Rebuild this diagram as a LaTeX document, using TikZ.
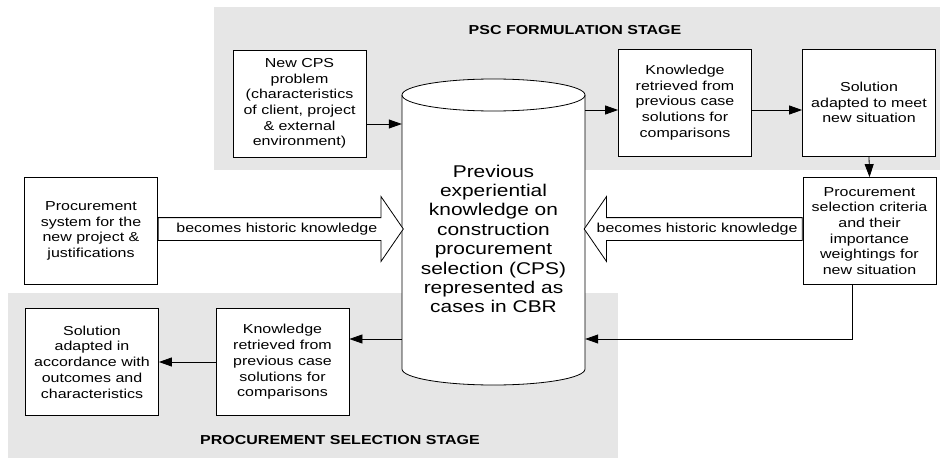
\documentclass[tikz,border=0pt]{standalone}
\usepackage{fontspec}
\setmainfont{Liberation Sans}[FakeStretch=1.23]
\usetikzlibrary{arrows.meta}
\usetikzlibrary{shapes.arrows}
\definecolor{stagegray}{RGB}{230,230,230}

\begin{document}
\begin{tikzpicture}[x=1pt,y=-1pt,
  box/.style={draw, fill=white, line width=.8pt, minimum width=133pt, minimum height=107pt, align=center, inner sep=2pt, font=\fontsize{13}{15.7}\selectfont},
  flow/.style={line width=.8pt, -{Triangle[length=13pt,width=9pt]}},
  hollow/.style={single arrow, draw, fill=white, line width=.8pt, minimum height=#1, single arrow head extend=21pt, single arrow tip angle=111, inner xsep=0pt, inner ysep=4.75pt, text height=9.5pt, text depth=3pt, font=\fontsize{13}{15.7}\selectfont},
  stage/.style={font=\fontsize{13}{15.7}\selectfont\bfseries}]
\useasboundingbox (0,0) rectangle (942,460);

% the two stages
\fill[stagegray] (214,7) rectangle (940,170);
\fill[stagegray] (8,293) rectangle (618,458);
\node[stage] (psc) at (575,30) {PSC FORMULATION STAGE};
\node[stage] (pss) at (340,440) {PROCUREMENT SELECTION STAGE};

\node[box] (new) at (299.5,103.5) {New CPS\\problem\\(characteristics\\of client, project\\\& external\\environment)};
\node[box] (kn1) at (685,102.5) {Knowledge\\retrieved from\\previous case\\solutions for\\comparisons};
\node[box] (sol1) at (869,102.5) {Solution\\adapted to meet\\new situation};
\node[box] (crit) at (869.5,231) {Procurement\\selection criteria\\and their\\importance\\weightings for\\new situation};
\node[box] (psys) at (91,231) {Procurement\\system for the\\new project \&\\justifications};
\node[box] (kn2) at (282.5,362) {Knowledge\\retrieved from\\previous case\\solutions for\\comparisons};
\node[box] (sol2) at (92,362) {Solution\\adapted in\\accordance with\\outcomes and\\characteristics};

% case base
\filldraw[fill=white, line width=.8pt] (402,95) -- (402,369) arc[start angle=180, end angle=0, x radius=91.5, y radius=16] -- (585,95) arc[start angle=0, end angle=-180, x radius=91.5, y radius=16] -- cycle;
\draw[line width=.8pt] (402,95) arc[start angle=180, end angle=0, x radius=91.5, y radius=16];
\node[minimum width=183pt, inner sep=0pt, align=center, font=\fontsize{17}{19.4}\selectfont] (cbr) at (493.5,239) {Previous\\experiential\\knowledge on\\construction\\procurement\\selection (CPS)\\represented as\\cases in CBR};

\node[hollow=245pt, anchor=tail] (hist1) at (psys.east |- 0,229) {becomes historic knowledge};
\node[hollow=218pt, shape border rotate=180, anchor=tail] (hist2) at (crit.west |- 0,229) {becomes historic knowledge};

\coordinate (in1) at ([yshift=-20.5pt]new.east);
\draw[flow] (in1) -- (in1 -| cbr.west);
\coordinate (out1) at ([yshift=-7.5pt]kn1.west);
\draw[flow] (out1 -| cbr.east) -- (out1);
\draw[flow] (out1 -| kn1.east) -- (out1 -| sol1.west);
\draw[flow] (sol1.south) -- (crit.north);
\coordinate (back) at ([xshift=-17.5pt]crit.south);
\coordinate (ret) at (back |- 0,339);
\draw[flow] (back) -- (ret) -- (ret -| cbr.east);
\draw[flow] (ret -| cbr.west) -- (ret -| kn2.east);
\draw[flow] (kn2.west) -- (sol2.east);

\end{tikzpicture}
\end{document}
